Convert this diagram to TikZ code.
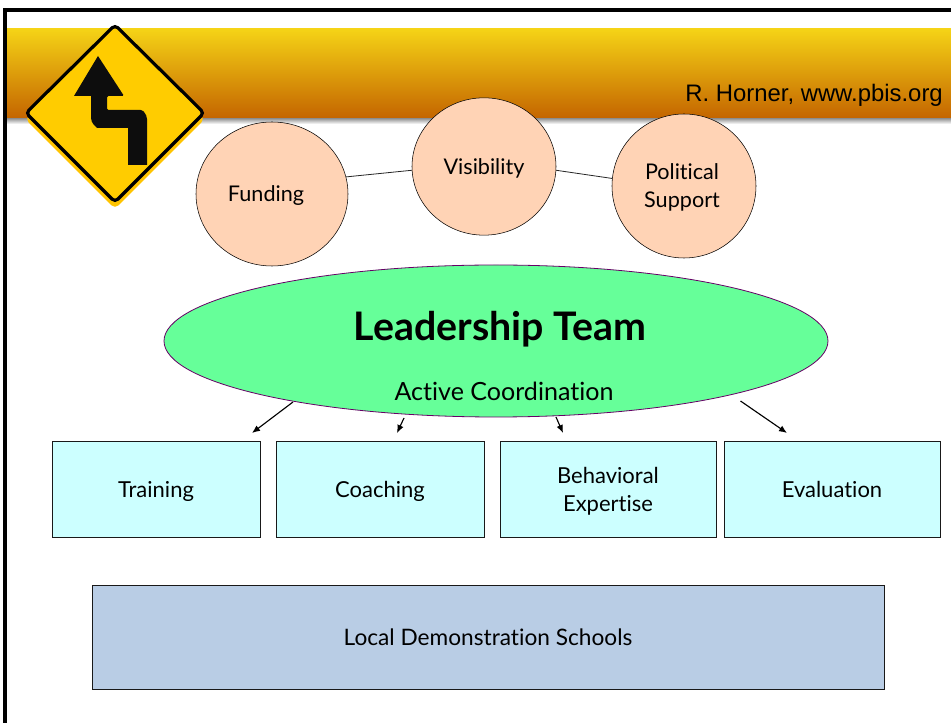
\documentclass[tikz,border=0pt]{standalone}
\usepackage{fontspec}
\setmainfont[Ligatures=NoCommon]{Lato}
\newfontfamily\creditfont{Liberation Sans}
\usetikzlibrary{shapes.geometric,arrows.meta}
\definecolor{bandtop}{HTML}{F5D316}
\definecolor{bandbottom}{HTML}{C46500}
\definecolor{signyellow}{HTML}{FFCC00}
\definecolor{peach}{HTML}{FFD3B5}
\definecolor{mint}{HTML}{66FF99}
\definecolor{pale}{HTML}{CCFFFF}
\definecolor{slate}{HTML}{B9CDE5}
\tikzstyle{support}=[ellipse,draw,fill=peach,inner sep=0pt,text depth=0pt,font=\fontsize{16.2}{21}\selectfont,align=center]
\tikzstyle{lead}=[ellipse,draw=violet!80!black,line width=0.6pt,fill=mint,inner sep=0pt,minimum width=498pt,minimum height=114pt]
\tikzstyle{task}=[rectangle,draw=black!90,line width=0.5pt,fill=pale,inner sep=0pt,text depth=0pt,font=\fontsize{16.5}{21}\selectfont,align=center,minimum height=72pt]
\tikzstyle{link}=[draw=black!85,line width=0.6pt]
\tikzstyle{feed}=[-{Latex[length=6pt,width=5pt]},line width=0.85pt]
\begin{document}
\begin{tikzpicture}[x=0.75pt,y=-0.75pt]
        \useasboundingbox (0,0) rectangle (951,723);
        % slide frame and band
        \fill[white] (0,0) rectangle (951,723);
        \shade[top color=black!45,bottom color=white] (7,118) rectangle (951,124);
        \shade[top color=bandtop,bottom color=bandbottom] (7,29) rectangle (951,118);
        \draw[line width=2.6pt] (5,723) -- (5,10) -- (951,10);
        % road sign
        \fill[signyellow!90!orange,rounded corners=4pt] (115,29) -- (205,119) -- (115,209) -- (25,119) -- cycle;
        \draw[line width=2.4pt,fill=signyellow,rounded corners=3pt] (115,25) -- (204,113) -- (115,202) -- (26,113) -- cycle;
        \fill[black!95,rounded corners=1pt] (98,56) -- (124,96) -- (107,96) -- (107,110) -- (142,110) [rounded corners=3pt] -- (147,115) [sharp corners] -- (147,165) -- (128,165) -- (128,128) -- (97,128) [rounded corners=3pt] -- (91,122) [sharp corners] -- (91,96) -- (74,96) -- cycle;
        % support circles
        \draw (272,194) node[support,minimum width=114pt,minimum height=108pt](funding){\hspace*{-9pt}Funding};
        \draw (484,166.5) node[support,minimum width=108pt,minimum height=103pt](visibility){Visibility};
        \draw (684,186) node[support,minimum width=108pt,minimum height=108pt](political){\hspace*{-3pt}Political\\\hspace*{-3pt}Support};
        %
        \draw (496,341) node[lead](team){};
        \draw (500,326) node[font=\fontsize{29.5}{34}\selectfont\bfseries,text depth=0pt](teamlabel){Leadership Team};
        \draw (504,391) node[font=\fontsize{18.8}{22}\selectfont](coordlabel){Active Coordination};
        %
        \draw (156,489) node[task,minimum width=156pt](training){Training};
        \draw (380,489) node[task,minimum width=156pt](coaching){Coaching};
        \draw (608,489) node[task,minimum width=162pt](expertise){Behavioral\\Expertise};
        \draw (832,489) node[task,minimum width=162pt](evaluation){Evaluation};
        \draw (488,637) node[task,fill=slate,minimum width=594pt,minimum height=78pt,font=\fontsize{17}{21}\selectfont](schools){Local Demonstration Schools};
        %
        \draw (943,95) node[anchor=east,inner sep=0pt,font=\creditfont\fontsize{17.9}{20}\selectfont](credit){R. Horner, www.pbis.org};
        %
        \coordinate (a1) at (293,402);
        \coordinate (a2) at (404,418);
        \coordinate (a3) at (556,417);
        \coordinate (a4) at (740.5,401);
        \coordinate (b1) at (252,433);
        \coordinate (b2) at (397,433);
        \coordinate (b3) at (563,433);
        \coordinate (b4) at (787,433);
        \path
            (funding.13)     edge[link]     (visibility.183)
            (visibility.-3)  edge[link]     (political.174)
            (a1)             edge[feed]     (b1)
            (a2)             edge[feed]     (b2)
            (a3)             edge[feed]     (b3)
            (a4)             edge[feed]     (b4)
        ;
\end{tikzpicture}
\end{document}
